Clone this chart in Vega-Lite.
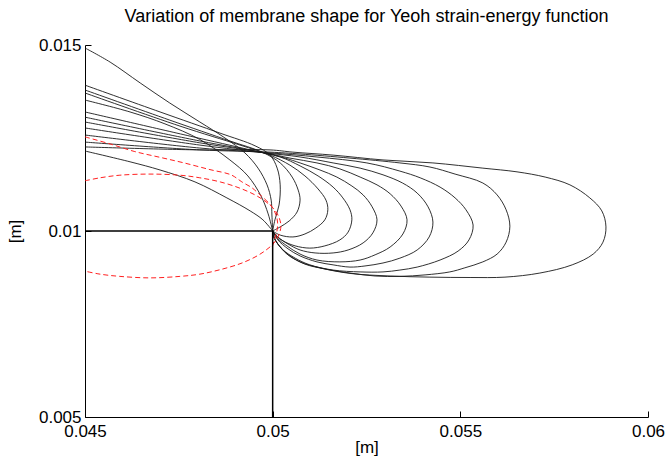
{
  "$schema": "https://vega.github.io/schema/vega-lite/v6.json",
  "width": 563,
  "height": 372,
  "autosize": {"type": "none"},
  "padding": {"left": 85, "top": 45, "right": 17, "bottom": 40},
  "background": "white",
  "title": {"text": "Variation of membrane shape for Yeoh strain-energy function", "fontSize": 18, "fontWeight": "normal", "font": "Liberation Sans", "color": "#000", "anchor": "middle", "frame": "group", "offset": 10},
  "config": {
    "view": {"stroke": null},
    "axis": {"grid": false, "domainColor": "#000", "tickColor": "#000", "labelColor": "#000", "titleColor": "#000", "labelFont": "Liberation Sans", "titleFont": "Liberation Sans", "labelFontSize": 17, "titleFontSize": 17, "titleFontWeight": "normal", "tickSize": -6, "labelFlush": false}
  },
  "datasets": {
    "black": [
      {"s":"C1","i":0,"x":0.045,"y":0.01215},{"s":"C1","i":1,"x":0.0462,"y":0.01186},{"s":"C1","i":2,"x":0.047,"y":0.01164},{"s":"C1","i":3,"x":0.04793,"y":0.01132},{"s":"C1","i":4,"x":0.04878,"y":0.01089},{"s":"C1","i":5,"x":0.0494,"y":0.01054},{"s":"C1","i":6,"x":0.04974,"y":0.0103},{"s":"C1","i":7,"x":0.05,"y":0.01},
      {"s":"Db","i":0,"x":0.045,"y":0.01352},{"s":"Db","i":1,"x":0.0462,"y":0.0132},{"s":"Db","i":2,"x":0.04713,"y":0.01288},{"s":"Db","i":3,"x":0.04806,"y":0.01246},{"s":"Db","i":4,"x":0.04886,"y":0.01191},{"s":"Db","i":5,"x":0.04934,"y":0.01148},{"s":"Db","i":6,"x":0.04969,"y":0.01094},{"s":"Db","i":7,"x":0.04988,"y":0.01046},{"s":"Db","i":8,"x":0.05,"y":0.01},
      {"s":"Dc","i":0,"x":0.045,"y":0.01492},{"s":"Dc","i":1,"x":0.04567,"y":0.01454},{"s":"Dc","i":2,"x":0.04647,"y":0.01398},{"s":"Dc","i":3,"x":0.04726,"y":0.01344},{"s":"Dc","i":4,"x":0.04806,"y":0.01293},{"s":"Dc","i":5,"x":0.04873,"y":0.0125},{"s":"Dc","i":6,"x":0.04926,"y":0.0121},{"s":"Dc","i":7,"x":0.04961,"y":0.01169},{"s":"Dc","i":8,"x":0.04985,"y":0.01124},{"s":"Dc","i":9,"x":0.04996,"y":0.01083},{"s":"Dc","i":10,"x":0.04998,"y":0.01043},{"s":"Dc","i":11,"x":0.05,"y":0.01},
      {"s":"S2","i":0,"x":0.045,"y":0.01392},{"s":"S2","i":1,"x":0.047,"y":0.0132},{"s":"S2","i":2,"x":0.0486,"y":0.01263},{"s":"S2","i":3,"x":0.04953,"y":0.01229},{"s":"S2","i":4,"x":0.04993,"y":0.01204},{"s":"S2","i":5,"x":0.05012,"y":0.01169},{"s":"S2","i":6,"x":0.0502,"y":0.01124},{"s":"S2","i":7,"x":0.05017,"y":0.0107},{"s":"S2","i":8,"x":0.05006,"y":0.0103},{"s":"S2","i":9,"x":0.05,"y":0.01},
      {"s":"L1","i":0,"x":0.045,"y":0.01379},{"s":"L1","i":1,"x":0.04726,"y":0.01298},{"s":"L1","i":2,"x":0.04886,"y":0.01242},{"s":"L1","i":3,"x":0.04972,"y":0.01212},{"s":"L1","i":4,"x":0.0502,"y":0.01183},{"s":"L1","i":5,"x":0.05052,"y":0.01145},{"s":"L1","i":6,"x":0.05068,"y":0.0111},{"s":"L1","i":7,"x":0.05073,"y":0.01083},{"s":"L1","i":8,"x":0.05065,"y":0.01051},{"s":"L1","i":9,"x":0.05044,"y":0.01027},{"s":"L1","i":10,"x":0.0502,"y":0.01011},{"s":"L1","i":11,"x":0.05,"y":0.01},
      {"s":"L2","i":0,"x":0.045,"y":0.01371},{"s":"L2","i":1,"x":0.04753,"y":0.01282},{"s":"L2","i":2,"x":0.04913,"y":0.01231},{"s":"L2","i":3,"x":0.04993,"y":0.01204},{"s":"L2","i":4,"x":0.05046,"y":0.01177},{"s":"L2","i":5,"x":0.05086,"y":0.01148},{"s":"L2","i":6,"x":0.05121,"y":0.01113},{"s":"L2","i":7,"x":0.05142,"y":0.01083},{"s":"L2","i":8,"x":0.05147,"y":0.01057},{"s":"L2","i":9,"x":0.05139,"y":0.0103},{"s":"L2","i":10,"x":0.05115,"y":0.01008},{"s":"L2","i":11,"x":0.05086,"y":0.00992},{"s":"L2","i":12,"x":0.05054,"y":0.00984},{"s":"L2","i":13,"x":0.0502,"y":0.00989},{"s":"L2","i":14,"x":0.05,"y":0.01},
      {"s":"L3","i":0,"x":0.045,"y":0.0132},{"s":"L3","i":1,"x":0.0478,"y":0.01255},{"s":"L3","i":2,"x":0.0494,"y":0.01218},{"s":"L3","i":3,"x":0.0502,"y":0.01199},{"s":"L3","i":4,"x":0.05073,"y":0.01175},{"s":"L3","i":5,"x":0.05121,"y":0.01148},{"s":"L3","i":6,"x":0.05161,"y":0.01118},{"s":"L3","i":7,"x":0.05187,"y":0.01089},{"s":"L3","i":8,"x":0.05206,"y":0.01057},{"s":"L3","i":9,"x":0.05211,"y":0.0103},{"s":"L3","i":10,"x":0.05201,"y":0.00997},{"s":"L3","i":11,"x":0.05179,"y":0.00976},{"s":"L3","i":12,"x":0.05139,"y":0.0096},{"s":"L3","i":13,"x":0.05099,"y":0.00954},{"s":"L3","i":14,"x":0.0506,"y":0.0096},{"s":"L3","i":15,"x":0.05028,"y":0.00973},{"s":"L3","i":16,"x":0.05009,"y":0.00987},{"s":"L3","i":17,"x":0.05,"y":0.01},
      {"s":"L4","i":0,"x":0.045,"y":0.01306},{"s":"L4","i":1,"x":0.04806,"y":0.01242},{"s":"L4","i":2,"x":0.04966,"y":0.01212},{"s":"L4","i":3,"x":0.05033,"y":0.01196},{"s":"L4","i":4,"x":0.05073,"y":0.01183},{"s":"L4","i":5,"x":0.05126,"y":0.01164},{"s":"L4","i":6,"x":0.05171,"y":0.01145},{"s":"L4","i":7,"x":0.05211,"y":0.01121},{"s":"L4","i":8,"x":0.05241,"y":0.01097},{"s":"L4","i":9,"x":0.05265,"y":0.01065},{"s":"L4","i":10,"x":0.05278,"y":0.0103},{"s":"L4","i":11,"x":0.05267,"y":0.00995},{"s":"L4","i":12,"x":0.05241,"y":0.00968},{"s":"L4","i":13,"x":0.05201,"y":0.00949},{"s":"L4","i":14,"x":0.05161,"y":0.00941},{"s":"L4","i":15,"x":0.05113,"y":0.00941},{"s":"L4","i":16,"x":0.05073,"y":0.00949},{"s":"L4","i":17,"x":0.05041,"y":0.00965},{"s":"L4","i":18,"x":0.05014,"y":0.00984},{"s":"L4","i":19,"x":0.05,"y":0.01},
      {"s":"L5","i":0,"x":0.045,"y":0.01293},{"s":"L5","i":1,"x":0.04806,"y":0.01237},{"s":"L5","i":2,"x":0.0498,"y":0.0121},{"s":"L5","i":3,"x":0.05046,"y":0.01196},{"s":"L5","i":4,"x":0.05118,"y":0.01183},{"s":"L5","i":5,"x":0.05179,"y":0.01167},{"s":"L5","i":6,"x":0.05233,"y":0.01145},{"s":"L5","i":7,"x":0.05278,"y":0.01124},{"s":"L5","i":8,"x":0.05313,"y":0.011},{"s":"L5","i":9,"x":0.05342,"y":0.01067},{"s":"L5","i":10,"x":0.05358,"y":0.0103},{"s":"L5","i":11,"x":0.05347,"y":0.00992},{"s":"L5","i":12,"x":0.05313,"y":0.00957},{"s":"L5","i":13,"x":0.05273,"y":0.00936},{"s":"L5","i":14,"x":0.05233,"y":0.00922},{"s":"L5","i":15,"x":0.05179,"y":0.00917},{"s":"L5","i":16,"x":0.05118,"y":0.00922},{"s":"L5","i":17,"x":0.05073,"y":0.00938},{"s":"L5","i":18,"x":0.05038,"y":0.0096},{"s":"L5","i":19,"x":0.05012,"y":0.00981},{"s":"L5","i":20,"x":0.05,"y":0.01},
      {"s":"L6","i":0,"x":0.045,"y":0.01277},{"s":"L6","i":1,"x":0.04806,"y":0.01231},{"s":"L6","i":2,"x":0.0498,"y":0.0121},{"s":"L6","i":3,"x":0.05073,"y":0.01199},{"s":"L6","i":4,"x":0.05161,"y":0.01183},{"s":"L6","i":5,"x":0.05233,"y":0.01169},{"s":"L6","i":6,"x":0.05294,"y":0.01151},{"s":"L6","i":7,"x":0.05346,"y":0.01129},{"s":"L6","i":8,"x":0.05385,"y":0.01102},{"s":"L6","i":9,"x":0.05414,"y":0.01065},{"s":"L6","i":10,"x":0.05427,"y":0.01024},{"s":"L6","i":11,"x":0.05417,"y":0.00984},{"s":"L6","i":12,"x":0.05385,"y":0.00949},{"s":"L6","i":13,"x":0.05339,"y":0.00927},{"s":"L6","i":14,"x":0.05294,"y":0.00914},{"s":"L6","i":15,"x":0.05246,"y":0.00906},{"s":"L6","i":16,"x":0.05206,"y":0.00903},{"s":"L6","i":17,"x":0.05161,"y":0.00909},{"s":"L6","i":18,"x":0.05118,"y":0.00917},{"s":"L6","i":19,"x":0.05073,"y":0.00933},{"s":"L6","i":20,"x":0.05041,"y":0.00952},{"s":"L6","i":21,"x":0.05014,"y":0.00976},{"s":"L6","i":22,"x":0.05,"y":0.01},
      {"s":"L7","i":0,"x":0.045,"y":0.01258},{"s":"L7","i":1,"x":0.04806,"y":0.01223},{"s":"L7","i":2,"x":0.04993,"y":0.0121},{"s":"L7","i":3,"x":0.05118,"y":0.01199},{"s":"L7","i":4,"x":0.05251,"y":0.01183},{"s":"L7","i":5,"x":0.05339,"y":0.01161},{"s":"L7","i":6,"x":0.05393,"y":0.01143},{"s":"L7","i":7,"x":0.05446,"y":0.01118},{"s":"L7","i":8,"x":0.05486,"y":0.01089},{"s":"L7","i":9,"x":0.05515,"y":0.01057},{"s":"L7","i":10,"x":0.05534,"y":0.01016},{"s":"L7","i":11,"x":0.05523,"y":0.00976},{"s":"L7","i":12,"x":0.05494,"y":0.00946},{"s":"L7","i":13,"x":0.05446,"y":0.00922},{"s":"L7","i":14,"x":0.05385,"y":0.00903},{"s":"L7","i":15,"x":0.05339,"y":0.00895},{"s":"L7","i":16,"x":0.05294,"y":0.0089},{"s":"L7","i":17,"x":0.05233,"y":0.0089},{"s":"L7","i":18,"x":0.05161,"y":0.00895},{"s":"L7","i":19,"x":0.05099,"y":0.00909},{"s":"L7","i":20,"x":0.0506,"y":0.00927},{"s":"L7","i":21,"x":0.05028,"y":0.00949},{"s":"L7","i":22,"x":0.05009,"y":0.00973},{"s":"L7","i":23,"x":0.05,"y":0.01},
      {"s":"L8","i":0,"x":0.045,"y":0.01239},{"s":"L8","i":1,"x":0.04806,"y":0.01218},{"s":"L8","i":2,"x":0.04993,"y":0.01212},{"s":"L8","i":3,"x":0.05073,"y":0.01207},{"s":"L8","i":4,"x":0.05206,"y":0.01196},{"s":"L8","i":5,"x":0.05339,"y":0.01183},{"s":"L8","i":6,"x":0.05419,"y":0.01172},{"s":"L8","i":7,"x":0.05486,"y":0.01153},{"s":"L8","i":8,"x":0.0556,"y":0.01129},{"s":"L8","i":9,"x":0.05598,"y":0.01097},{"s":"L8","i":10,"x":0.05622,"y":0.01057},{"s":"L8","i":11,"x":0.05632,"y":0.01013},{"s":"L8","i":12,"x":0.05622,"y":0.0097},{"s":"L8","i":13,"x":0.05598,"y":0.00938},{"s":"L8","i":14,"x":0.0556,"y":0.00917},{"s":"L8","i":15,"x":0.05512,"y":0.00901},{"s":"L8","i":16,"x":0.05472,"y":0.0089},{"s":"L8","i":17,"x":0.05406,"y":0.00882},{"s":"L8","i":18,"x":0.05339,"y":0.00878},{"s":"L8","i":19,"x":0.05273,"y":0.00879},{"s":"L8","i":20,"x":0.05206,"y":0.00887},{"s":"L8","i":21,"x":0.05139,"y":0.00898},{"s":"L8","i":22,"x":0.05086,"y":0.00911},{"s":"L8","i":23,"x":0.05046,"y":0.00933},{"s":"L8","i":24,"x":0.0502,"y":0.00957},{"s":"L8","i":25,"x":0.05004,"y":0.00981},{"s":"L8","i":26,"x":0.05,"y":0.01},
      {"s":"L9","i":0,"x":0.045,"y":0.01226},{"s":"L9","i":1,"x":0.04806,"y":0.01218},{"s":"L9","i":2,"x":0.04993,"y":0.01218},{"s":"L9","i":3,"x":0.05054,"y":0.01212},{"s":"L9","i":4,"x":0.05161,"y":0.01204},{"s":"L9","i":5,"x":0.05294,"y":0.01191},{"s":"L9","i":6,"x":0.05427,"y":0.01183},{"s":"L9","i":7,"x":0.0556,"y":0.01169},{"s":"L9","i":8,"x":0.05651,"y":0.01159},{"s":"L9","i":9,"x":0.05726,"y":0.01145},{"s":"L9","i":10,"x":0.05792,"y":0.01124},{"s":"L9","i":11,"x":0.05845,"y":0.01089},{"s":"L9","i":12,"x":0.05877,"y":0.01054},{"s":"L9","i":13,"x":0.05888,"y":0.01011},{"s":"L9","i":14,"x":0.0588,"y":0.0097},{"s":"L9","i":15,"x":0.05854,"y":0.00938},{"s":"L9","i":16,"x":0.05798,"y":0.00909},{"s":"L9","i":17,"x":0.05712,"y":0.00887},{"s":"L9","i":18,"x":0.05619,"y":0.00876},{"s":"L9","i":19,"x":0.05526,"y":0.00875},{"s":"L9","i":20,"x":0.05419,"y":0.00876},{"s":"L9","i":21,"x":0.05313,"y":0.00879},{"s":"L9","i":22,"x":0.05206,"y":0.00886},{"s":"L9","i":23,"x":0.05126,"y":0.00901},{"s":"L9","i":24,"x":0.05073,"y":0.00917},{"s":"L9","i":25,"x":0.05038,"y":0.00938},{"s":"L9","i":26,"x":0.05014,"y":0.00965},{"s":"L9","i":27,"x":0.05001,"y":0.00987},{"s":"L9","i":28,"x":0.05,"y":0.01}
    ],
    "red": [
      {"s":"R2","i":0,"x":0.045,"y":0.01253},{"s":"R2","i":1,"x":0.04567,"y":0.01234},{"s":"R2","i":2,"x":0.04631,"y":0.01214},{"s":"R2","i":3,"x":0.047,"y":0.01198},{"s":"R2","i":4,"x":0.04764,"y":0.01183},{"s":"R2","i":5,"x":0.04833,"y":0.01165},{"s":"R2","i":6,"x":0.04889,"y":0.01151},{"s":"R2","i":7,"x":0.04918,"y":0.01132},{"s":"R2","i":8,"x":0.04945,"y":0.01116},{"s":"R2","i":9,"x":0.04961,"y":0.01102},{"s":"R2","i":10,"x":0.04982,"y":0.01083},{"s":"R2","i":11,"x":0.04998,"y":0.01065},{"s":"R2","i":12,"x":0.05009,"y":0.01043},{"s":"R2","i":13,"x":0.05013,"y":0.01024},{"s":"R2","i":14,"x":0.05012,"y":0.01003},{"s":"R2","i":15,"x":0.05006,"y":0.00981},{"s":"R2","i":16,"x":0.04998,"y":0.00954},
      {"s":"R1","i":0,"x":0.045,"y":0.01135},{"s":"R1","i":1,"x":0.0454,"y":0.01143},{"s":"R1","i":2,"x":0.04593,"y":0.0115},{"s":"R1","i":3,"x":0.04673,"y":0.01153},{"s":"R1","i":4,"x":0.04753,"y":0.0115},{"s":"R1","i":5,"x":0.04806,"y":0.01143},{"s":"R1","i":6,"x":0.0486,"y":0.01132},{"s":"R1","i":7,"x":0.04913,"y":0.01115},{"s":"R1","i":8,"x":0.04953,"y":0.01097},{"s":"R1","i":9,"x":0.0498,"y":0.0108},{"s":"R1","i":10,"x":0.05001,"y":0.01062},{"s":"R1","i":11,"x":0.05014,"y":0.01043},{"s":"R1","i":12,"x":0.05022,"y":0.01014},{"s":"R1","i":13,"x":0.05014,"y":0.00984},{"s":"R1","i":14,"x":0.05001,"y":0.00965},{"s":"R1","i":15,"x":0.0498,"y":0.00947},{"s":"R1","i":16,"x":0.04953,"y":0.0093},{"s":"R1","i":17,"x":0.04913,"y":0.00912},{"s":"R1","i":18,"x":0.0486,"y":0.00896},{"s":"R1","i":19,"x":0.04806,"y":0.00884},{"s":"R1","i":20,"x":0.04753,"y":0.00878},{"s":"R1","i":21,"x":0.04673,"y":0.00874},{"s":"R1","i":22,"x":0.04593,"y":0.00878},{"s":"R1","i":23,"x":0.0454,"y":0.00884},{"s":"R1","i":24,"x":0.045,"y":0.00892}
    ],
    "frame": [
      {"i":0,"x":0.045,"y":0.01},{"i":1,"x":0.05,"y":0.01},{"i":2,"x":0.05,"y":0.005}
    ]
  },
  "encoding": {
    "x": {"field": "x", "type": "quantitative", "scale": {"domain": [0.045, 0.06], "nice": false, "zero": false}, "axis": {"values": [0.045, 0.05, 0.055, 0.06], "labelExpr": "format(datum.value, '.3~f')", "title": "[m]", "labelPadding": 12, "titlePadding": 0}},
    "y": {"field": "y", "type": "quantitative", "scale": {"domain": [0.005, 0.015], "nice": false, "zero": false}, "axis": {"values": [0.005, 0.01, 0.015], "labelExpr": "format(datum.value, '.3~f')", "title": "[m]", "labelPadding": 10, "titlePadding": 14}}
  },
  "layer": [
    {
      "data": {"name": "black"},
      "mark": {"type": "line", "interpolate": "catmull-rom", "stroke": "#1a1a1a", "strokeWidth": 0.9, "clip": true},
      "encoding": {"detail": {"field": "s"}, "order": {"field": "i", "type": "quantitative"}}
    },
    {
      "data": {"name": "red"},
      "mark": {"type": "line", "interpolate": "catmull-rom", "stroke": "#ff2020", "strokeWidth": 1, "strokeDash": [5, 3], "clip": true},
      "encoding": {"detail": {"field": "s"}, "order": {"field": "i", "type": "quantitative"}}
    },
    {
      "data": {"name": "frame"},
      "mark": {"type": "line", "stroke": "#000", "strokeWidth": 1.5},
      "encoding": {"order": {"field": "i", "type": "quantitative"}}
    }
  ]
}
